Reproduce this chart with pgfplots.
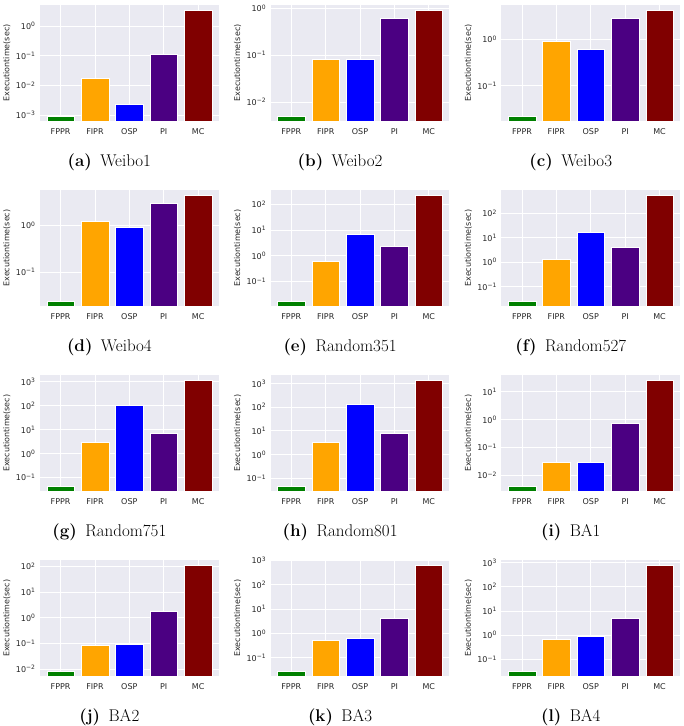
\documentclass[border=0pt]{standalone}
\usepackage{fontspec}
\setsansfont{DejaVu Sans}
\usepackage{pgfplots}
\usepackage{pgfplotstable}
\pgfplotsset{compat=1.18}
\usepgfplotslibrary{groupplots}
\usetikzlibrary{calc}

\definecolor{bgc}{HTML}{EAEAF2}
\definecolor{cFPPR}{RGB}{0,128,0}
\definecolor{cFIPR}{RGB}{255,165,0}
\definecolor{cOSP}{RGB}{0,0,255}
\definecolor{cPI}{RGB}{75,0,130}
\definecolor{cMC}{RGB}{128,0,0}

% execution time (sec), one column per dataset
\pgfplotstableread{
idx method Weibo1  Weibo2 Weibo3 Weibo4 Random351 Random527 Random751 Random801 BA1     BA2    BA3    BA4
0   FPPR   0.00095 0.0050 0.0221 0.0239 0.0171    0.0259    0.0419    0.0459    0.00404 0.0081 0.0273 0.0319
1   FIPR   0.0172  0.0808 0.905  1.22   0.583     1.33      2.99      3.32      0.030   0.086  0.514  0.705
2   OSP    0.00235 0.082  0.618  0.92   6.98      17.1      100       130       0.0285  0.0887 0.622  0.88
3   PI     0.111   0.611  2.89   2.96   2.24      4.11      6.8       7.96      0.739   1.77   4.29   5.05
4   MC     3.46    0.92   4.3    4.47   224       546       1137      1340      24.8    113    642    813
}\exectimes

\newcommand\tenp[1]{10\textsuperscript{#1}}
\tikzset{nb/.style={/pgf/bar shift=0pt, draw=white, line width=0.4pt}}
\newcommand\bars[1]{%
  \addplot[nb, fill=cFPPR] table[x=idx,y=#1,restrict x to domain=-0.1:0.1]{\exectimes};
  \addplot[nb, fill=cFIPR] table[x=idx,y=#1,restrict x to domain=0.9:1.1]{\exectimes};
  \addplot[nb, fill=cOSP]  table[x=idx,y=#1,restrict x to domain=1.9:2.1]{\exectimes};
  \addplot[nb, fill=cPI]   table[x=idx,y=#1,restrict x to domain=2.9:3.1]{\exectimes};
  \addplot[nb, fill=cMC]   table[x=idx,y=#1,restrict x to domain=3.9:4.1]{\exectimes};
}
\newcommand\subcap[2]{\textbf{(#1)}\enspace #2}

\pgfplotsset{every axis/.append style={/pgf/bar width=0.8}}

\begin{document}
\begin{tikzpicture}
\begin{groupplot}[
    group style={group name=G, group size=3 by 4,
        horizontal sep=52pt, vertical sep=69.3pt},
    scale only axis,
    width=179pt, height=116pt,
    ymode=log, log basis y=10, log origin=infty,
    yminorticks=false,
    xmin=-0.6, xmax=4.6,
    xtick={0,1,2,3,4},
    xticklabels={FPPR,FIPR,OSP,PI,MC},
    ybar,
    axis background/.style={fill=bgc},
    grid=major,
    major grid style={white, line width=0.9pt},
    axis line style={draw=none},
    tick style={draw=none},
    tick label style={font=\sffamily\fontsize{8}{9}\selectfont, text=black!85},
    yticklabel style={xshift=-1pt},
    ylabel={Executiontime(sec)},
    ylabel style={font=\sffamily\fontsize{8}{9}\selectfont, text=black!85,
        at={(axis description cs:0,0.5)}, anchor=center, yshift=33pt},
    xlabel style={font=\fontsize{17}{19}\selectfont,
        at={(axis description cs:0.5,0)}, anchor=center, xshift=-20pt, yshift=-41pt},
]
\nextgroupplot[ymin=6.4e-4, ymax=5.1, ytick={0.001,0.01,0.1,1},
    yticklabels={\tenp{−3},\tenp{−2},\tenp{−1},\tenp{0}}, xlabel={\subcap{a}{Weibo1}}]
\bars{Weibo1}
\nextgroupplot[ymin=0.0040, ymax=1.18, ytick={0.01,0.1,1},
    yticklabels={\tenp{−2},\tenp{−1},\tenp{0}}, xlabel={\subcap{b}{Weibo2}}]
\bars{Weibo2}
\nextgroupplot[ymin=0.0176, ymax=5.5, ytick={0.1,1},
    yticklabels={\tenp{−1},\tenp{0}}, xlabel={\subcap{c}{Weibo3}}]
\bars{Weibo3}
\nextgroupplot[ymin=0.0187, ymax=5.7, ytick={0.1,1},
    yticklabels={\tenp{−1},\tenp{0}}, xlabel={\subcap{d}{Weibo4}}]
\bars{Weibo4}
\nextgroupplot[ymin=0.011, ymax=361, ytick={0.1,1,10,100},
    yticklabels={\tenp{−1},\tenp{0},\tenp{1},\tenp{2}}, xlabel={\subcap{e}{Random351}}]
\bars{Random351}
\nextgroupplot[ymin=0.0162, ymax=902, ytick={0.1,1,10,100},
    yticklabels={\tenp{−1},\tenp{0},\tenp{1},\tenp{2}}, xlabel={\subcap{f}{Random527}}]
\bars{Random527}
\nextgroupplot[ymin=0.0267, ymax=1900, ytick={0.1,1,10,100,1000},
    yticklabels={\tenp{−1},\tenp{0},\tenp{1},\tenp{2},\tenp{3}}, xlabel={\subcap{g}{Random751}}]
\bars{Random751}
\nextgroupplot[ymin=0.0292, ymax=2250, ytick={0.1,1,10,100,1000},
    yticklabels={\tenp{−1},\tenp{0},\tenp{1},\tenp{2},\tenp{3}}, xlabel={\subcap{h}{Random801}}]
\bars{Random801}
\nextgroupplot[ymin=0.00275, ymax=38.5, ytick={0.01,0.1,1,10},
    yticklabels={\tenp{−2},\tenp{−1},\tenp{0},\tenp{1}}, xlabel={\subcap{i}{BA1}}]
\bars{BA1}
\nextgroupplot[ymin=0.00532, ymax=172, ytick={0.01,0.1,1,10,100},
    yticklabels={\tenp{−2},\tenp{−1},\tenp{0},\tenp{1},\tenp{2}}, xlabel={\subcap{j}{BA2}}]
\bars{BA2}
\nextgroupplot[ymin=0.0175, ymax=1020, ytick={0.1,1,10,100,1000},
    yticklabels={\tenp{−1},\tenp{0},\tenp{1},\tenp{2},\tenp{3}}, xlabel={\subcap{k}{BA3}}]
\bars{BA3}
\nextgroupplot[ymin=0.0204, ymax=1270, ytick={0.1,1,10,100,1000},
    yticklabels={\tenp{−1},\tenp{0},\tenp{1},\tenp{2},\tenp{3}}, xlabel={\subcap{l}{BA4}}]
\bars{BA4}
\end{groupplot}
\pgfresetboundingbox
\path[use as bounding box] ($(G c1r1.north west)+(-40pt,5pt)$) rectangle ($(G c3r4.south east)+(3pt,-50pt)$);
\end{tikzpicture}
\end{document}
